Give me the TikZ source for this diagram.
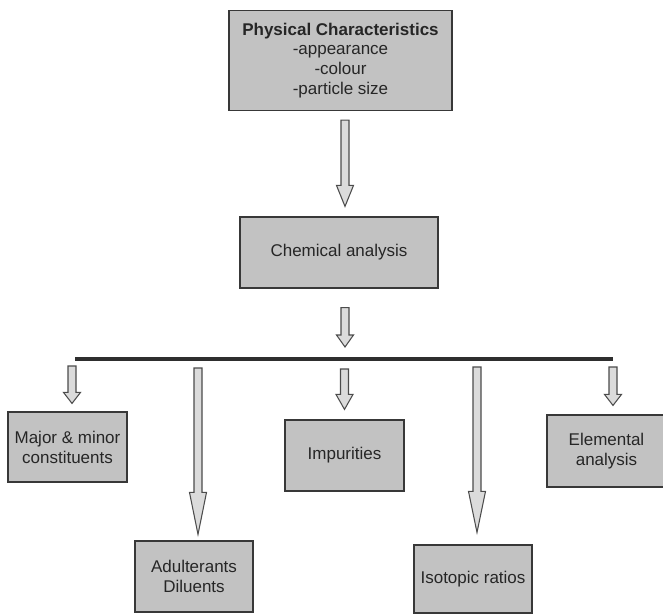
\documentclass[tikz,border=0pt]{standalone}
\usepackage{fontspec}
\setmainfont{Liberation Sans}
\usetikzlibrary{calc}

\newcommand{\pxu}{0.03cm}
\newcommand{\fatarrow}[3]{%
  \draw[fatarrow] let \p1=(#1), \p2=(#2) in
    (\x1-4*\pxu,\y1) -- (\x1-4*\pxu,\y2+#3*\pxu) -- (\x1-8.5*\pxu,\y2+#3*\pxu)
    -- (\x1,\y2) -- (\x1+8.5*\pxu,\y2+#3*\pxu) -- (\x1+4*\pxu,\y2+#3*\pxu)
    -- (\x1+4*\pxu,\y1) -- cycle;}

\tikzset{
  box/.style={draw=black!78, fill=black!24, line width=1pt, align=center,
    text=black!85, inner sep=2pt,
    font=\fontsize{14.5}{17}\selectfont},
  fatarrow/.style={draw=black!70, fill=black!14, line width=0.9pt, line join=miter},
  bar/.style={draw=black!82, line width=3.8pt}
}

\begin{document}
\begin{tikzpicture}[x=0.03cm, y=-0.03cm]
  \useasboundingbox (0,0) rectangle (663,615);

  \node[box, minimum width=223*\pxu, minimum height=100*\pxu] (phys) at (340.5,60.5)
    {{\bfseries Physical Characteristics}\\-appearance\\-colour\\-particle size};
  \node[box, minimum width=198*\pxu, minimum height=71*\pxu] (chem) at (339,252.5)
    {Chemical analysis};

  \node[box, minimum width=119*\pxu, minimum height=70*\pxu] (major) at (67.5,447)
    {Major \& minor\\constituents};
  \node[box, minimum width=118*\pxu, minimum height=71*\pxu] (adult) at (194,576.5)
    {Adulterants\\Diluents};
  \node[box, minimum width=119*\pxu, minimum height=71*\pxu] (impur) at (344.5,455.5)
    {Impurities};
  \node[box, minimum width=118*\pxu, minimum height=68*\pxu] (isot) at (473,579)
    {Isotopic ratios};
  \node[box, minimum width=119*\pxu, minimum height=72*\pxu] (elem) at (606.5,451)
    {Elemental\\analysis};

  \coordinate (barL) at (75,359);
  \coordinate (barR) at (613,359);
  \draw[bar] (barL) -- (barR);

  \fatarrow{$(phys.south)+(4.5,9)$}{$(chem.north)+(0,-10)$}{21}
  \fatarrow{$(chem.south)+(6,19)$}{$(barL -| chem.south)+(0,-12)$}{12}

  \fatarrow{$(barL -| major.north)+(4.5,7)$}{$(major.north)+(0,-8)$}{11}
  \fatarrow{$(barL -| adult.north)+(4,9)$}{$(adult.north)+(0,-6)$}{42}
  \fatarrow{$(barL -| impur.north)+(0,10)$}{$(impur.north)+(0,-10)$}{15}
  \fatarrow{$(barL -| isot.north)+(4,8)$}{$(isot.north)+(0,-12)$}{41}
  \fatarrow{$(barL -| elem.north)+(6.5,8)$}{$(elem.north)+(0,-9)$}{11}
\end{tikzpicture}
\end{document}
